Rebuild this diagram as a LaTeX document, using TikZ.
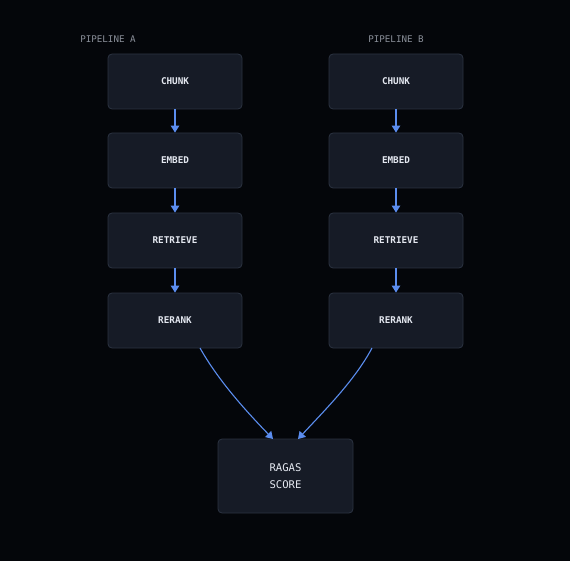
\documentclass[tikz,border=0pt]{standalone}
\usepackage{fontspec}
\setmonofont{DejaVu Sans Mono}
\usetikzlibrary{arrows.meta}
\definecolor{bgc}{HTML}{04060A}
\definecolor{boxfill}{HTML}{161B26}
\definecolor{boxline}{HTML}{2C3342}
\definecolor{arrowc}{HTML}{5B8DEF}
\definecolor{labc}{HTML}{8A8F99}
\definecolor{txtc}{HTML}{E4E8F0}
\tikzset{
  stepbox/.style={draw=boxline, line width=0.8pt, fill=boxfill, rounded corners=4pt,
    minimum width=134pt, minimum height=55pt, inner sep=0pt,
    font=\ttfamily\bfseries\fontsize{9.3}{11}\selectfont, text=txtc},
  scorebox/.style={stepbox, minimum width=135pt, minimum height=74pt,
    font=\ttfamily\fontsize{10.6}{17.5}\selectfont, align=center},
  lab/.style={font=\ttfamily\fontsize{9.2}{11}\selectfont, text=labc},
  conn/.style={draw=arrowc, line width=1.1pt, -{Triangle[length=7pt,width=8.5pt]}},
}
\begin{document}
\begin{tikzpicture}[x=1pt,y=-1pt]
\useasboundingbox (0,0) rectangle (570,561);
\fill[bgc] (0,0) rectangle (570,561);
\node[lab] (la) at (108,39) {PIPELINE A};
\node[lab] (lb) at (396,39) {PIPELINE B};
\node[stepbox] (a1) at (175,81.5) {CHUNK};
\node[stepbox] (a2) at (175,160.5) {EMBED};
\node[stepbox] (a3) at (175,240.5) {RETRIEVE};
\node[stepbox] (a4) at (175,320.5) {RERANK};
\node[stepbox] (b1) at (396,81.5) {CHUNK};
\node[stepbox] (b2) at (396,160.5) {EMBED};
\node[stepbox] (b3) at (396,240.5) {RETRIEVE};
\node[stepbox] (b4) at (396,320.5) {RERANK};
\node[scorebox] (s) at (285.5,476) {RAGAS\\SCORE};
\draw[conn] (a1) -- (a2);
\draw[conn] (a2) -- (a3);
\draw[conn] (a3) -- (a4);
\draw[conn] (b1) -- (b2);
\draw[conn] (b2) -- (b3);
\draw[conn] (b3) -- (b4);
\coordinate (a4o) at (200,348);
\coordinate (b4o) at (372,348);
\coordinate (sa) at (273,439);
\coordinate (sb) at (298,439);
\draw[conn] (a4o) .. controls (218,380) and (245,410) .. (sa);
\draw[conn] (b4o) .. controls (355,380) and (325,410) .. (sb);
\end{tikzpicture}
\end{document}
